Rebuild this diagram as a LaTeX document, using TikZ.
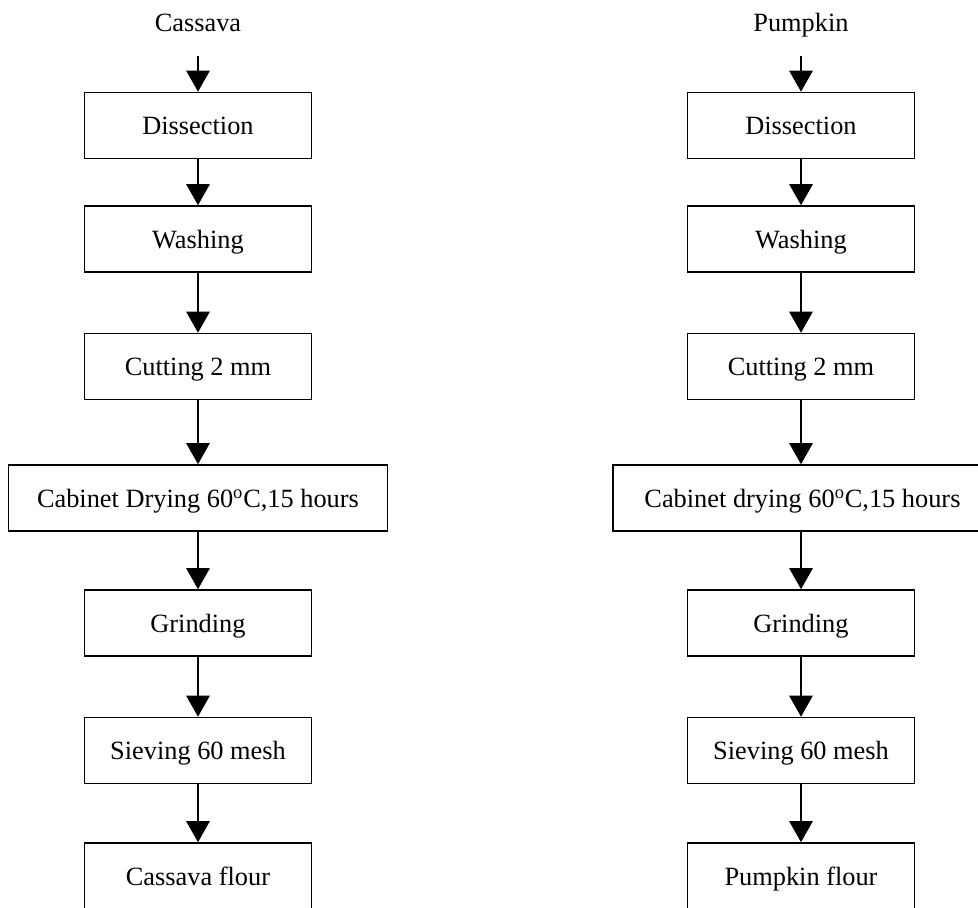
\documentclass[tikz,border=0pt]{standalone}
\usepackage{fontspec}
\setmainfont{Liberation Serif}
\usetikzlibrary{arrows.meta}
\begin{document}
\begin{tikzpicture}[x=0.02cm,y=-0.02cm,
  stepbox/.style={draw, line width=0.95pt, inner sep=0pt, minimum width=4.54cm, minimum height=1.32cm, text height=0.38cm, text depth=0pt, font=\fontsize{15}{17}\selectfont},
  widebox/.style={stepbox, minimum width=7.58cm},
  lbl/.style={inner sep=0pt, anchor=base, font=\fontsize{15}{17}\selectfont},
  flow/.style={line width=0.8pt, -{Triangle[width=0.47cm,length=0.42cm]}}]
\useasboundingbox (0,0) rectangle (978,908);
\clip (0,0) rectangle (978,908);
% left column
\node[lbl] (lt) at (198,32) {Cassava};
\coordinate (ls) at (198,56);
\node[stepbox] (l1) at (198,125.5) {Dissection};
\node[stepbox] (l2) at (198,239) {Washing};
\node[stepbox] (l3) at (198,366.5) {Cutting 2 mm};
\node[widebox] (l4) at (198,498) {Cabinet Drying 60\textsuperscript{o}C,15 hours};
\node[stepbox] (l5) at (198,623) {Grinding};
\node[stepbox] (l6) at (198,750.5) {Sieving 60 mesh};
\node[stepbox] (l7) at (198,876) {Cassava flour};
\draw[flow] (ls) -- (l1.north);
\draw[flow] (l1) -- (l2);
\draw[flow] (l2) -- (l3);
\draw[flow] (l3) -- (l4);
\draw[flow] (l4) -- (l5);
\draw[flow] (l5) -- (l6);
\draw[flow] (l6) -- (l7);
% right column
\node[lbl] (rt) at (801,32) {Pumpkin};
\coordinate (rs) at (801,56);
\node[stepbox] (r1) at (801,125.5) {Dissection};
\node[stepbox] (r2) at (801,239) {Washing};
\node[stepbox] (r3) at (801,366.5) {Cutting 2 mm};
\node[widebox] (r4) at (802.5,498) {Cabinet drying 60\textsuperscript{o}C,15 hours};
\node[stepbox] (r5) at (801,623) {Grinding};
\node[stepbox] (r6) at (801,750.5) {Sieving 60 mesh};
\node[stepbox] (r7) at (801,876) {Pumpkin flour};
\draw[flow] (rs) -- (r1.north);
\draw[flow] (r1) -- (r2);
\draw[flow] (r2) -- (r3);
\draw[flow] (r3) -- (r4.north -| r3);
\draw[flow] (r4.south -| r3) -- (r5);
\draw[flow] (r5) -- (r6);
\draw[flow] (r6) -- (r7);
\end{tikzpicture}
\end{document}
